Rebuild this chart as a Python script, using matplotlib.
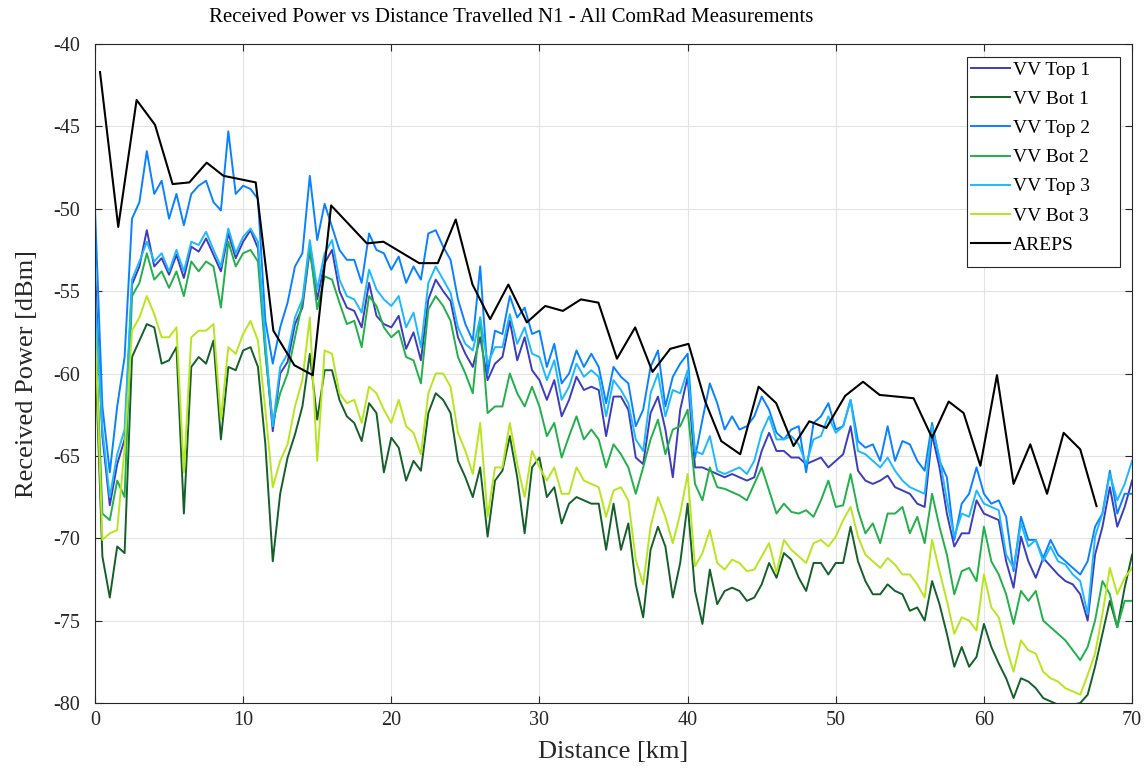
import numpy as np
import matplotlib
matplotlib.use('Agg')
import matplotlib.pyplot as plt
from matplotlib.patches import Rectangle

# distance grid for the measured series [km]
distance_km = np.arange(0, 70.01, 0.5)

# received power [dBm], every 0.5 km
vv_top_1 = [
    -53.8, -63.8, -68.0, -65.5, -64.0, -54.6, -53.5, -51.3, -53.5, -53.0, -54.0, -52.8,
    -54.2, -52.3, -52.6, -51.8, -52.8, -53.8, -51.5, -53.0, -52.0, -51.3, -52.4,
    -58.5, -63.5, -60.0, -59.3, -57.0, -56.0, -52.5, -55.5, -53.3, -52.5, -55.0, -56.0,
    -56.2, -57.2, -54.5, -56.5, -57.0, -57.2, -56.5, -58.5, -57.5, -59.2, -55.5, -54.3,
    -55.0, -55.6, -57.8, -58.8,
    -59.6, -57.8, -60.4, -59.4, -59.0, -56.8, -59.2, -57.8, -59.8, -60.4, -61.6, -60.4,
    -62.6, -61.6, -60.2, -61.0, -60.8, -61.0, -63.8, -61.4, -61.4, -62.2, -65.1, -65.5,
    -62.4, -61.4,
    -63.4, -66.3, -62.2, -60.2, -65.7, -65.7, -65.9, -66.1, -66.3, -66.1, -66.3, -66.5,
    -66.3, -64.7, -63.6, -64.7, -64.7, -65.1, -65.1, -65.5, -65.3, -65.1, -65.7, -65.3,
    -64.9, -63.2,
    -65.9, -66.5, -66.7, -66.5, -66.2, -66.9, -67.1, -67.3, -67.9, -68.1, -63.7, -65.7,
    -68.5, -70.5, -69.7, -69.7, -67.7, -68.5, -68.7, -68.9, -71.4, -73.0, -69.9, -71.4,
    -72.4, -71.2, -71.7, -72.2, -72.6, -72.8, -73.4, -75.0, -71.0, -69.3, -66.9, -69.3,
    -68.1, -66.5,
]
vv_bot_1 = [
    -58.2, -71.1, -73.6, -70.5, -70.9, -59.0, -58.0, -57.0, -57.2, -59.4, -59.2, -58.4,
    -68.5, -59.6, -59.0, -59.4, -58.0, -64.0, -59.6, -59.8, -58.6, -58.4, -59.6,
    -64.3, -71.4, -67.3, -65.1, -63.7, -62.0, -58.8, -62.8, -59.8, -59.8, -61.6, -62.6,
    -63.0, -64.1, -61.8, -62.4, -66.0, -63.9, -64.5, -66.5, -65.3, -65.9, -62.4, -61.2,
    -61.6, -62.4, -65.3, -66.3,
    -67.5, -65.7, -69.9, -66.5, -65.9, -63.8, -66.3, -69.7, -65.7, -65.1, -67.5, -66.9,
    -69.1, -67.9, -67.5, -67.7, -67.9, -67.9, -70.7, -67.9, -70.7, -69.1, -72.8, -74.8,
    -70.7, -69.3,
    -70.5, -73.6, -71.5, -67.9, -73.2, -75.2, -71.9, -74.0, -73.2, -73.0, -73.2, -73.8,
    -73.6, -72.8, -71.5, -72.4, -70.9, -71.3, -72.4, -73.2, -71.5, -71.5, -72.2, -71.5,
    -71.5, -69.3,
    -71.4, -72.6, -73.4, -73.4, -72.8, -73.2, -73.4, -74.4, -74.2, -75.0, -72.6, -74.0,
    -75.8, -77.8, -76.6, -77.8, -77.2, -75.2, -76.6, -77.6, -78.5, -79.7, -78.5, -78.7,
    -79.1, -79.7, -79.9, -80.1, -80.1, -80.1, -80.0, -79.5, -77.8, -75.8, -73.8, -75.4,
    -73.0, -71.0,
]
vv_top_2 = [
    -50.0, -62.0, -66.0, -62.0, -59.0, -50.6, -49.6, -46.5, -49.1, -48.3, -50.6, -49.1,
    -51.0, -49.1, -48.6, -48.3, -49.6, -50.1, -45.3, -49.1, -48.6, -48.8, -49.4,
    -56.8, -59.4, -57.2, -55.7, -53.5, -52.7, -48.0, -51.9, -49.7, -51.1, -52.5, -53.1,
    -53.1, -54.5, -51.5, -52.5, -52.7, -53.7, -52.9, -54.5, -53.5, -54.3, -51.5, -51.3,
    -52.3, -53.1, -55.5, -57.0,
    -58.0, -53.5, -60.0, -57.4, -57.6, -55.3, -56.6, -56.0, -57.6, -57.4, -59.6, -58.2,
    -60.6, -60.0, -58.6, -59.6, -58.8, -59.6, -61.8, -59.6, -60.2, -60.6, -63.2, -62.2,
    -59.6, -58.6,
    -62.0, -60.2, -59.4, -58.8, -65.1, -62.8, -60.6, -61.8, -63.4, -62.6, -63.4, -63.2,
    -62.6, -61.4, -62.2, -63.6, -64.0, -63.4, -63.2, -66.0, -63.0, -62.6, -61.8, -63.4,
    -63.2, -61.6,
    -64.1, -64.5, -64.3, -65.3, -63.2, -65.3, -64.1, -64.3, -65.3, -65.9, -63.0, -65.3,
    -66.3, -70.1, -67.9, -67.3, -65.7, -67.3, -67.9, -67.7, -68.7, -72.0, -68.7, -70.1,
    -70.1, -71.2, -70.1, -71.0, -71.4, -71.8, -72.2, -71.4, -69.3, -68.5, -65.9, -68.5,
    -67.3, -67.3,
]
vv_bot_2 = [
    -56.5, -68.5, -68.9, -66.5, -67.5, -55.3, -54.5, -52.7, -54.3, -53.8, -54.8, -53.8,
    -55.3, -53.2, -53.8, -53.2, -53.5, -56.0, -52.0, -53.5, -52.7, -52.5, -53.2,
    -58.8, -63.0, -61.2, -60.0, -57.8, -55.7, -52.3, -56.1, -54.1, -54.3, -55.7, -57.0,
    -56.8, -58.4, -55.3, -55.9, -57.2, -57.8, -57.4, -59.0, -59.2, -60.6, -56.1, -55.3,
    -55.9, -56.8, -59.0, -60.0,
    -61.2, -56.6, -62.4, -62.0, -62.0, -60.0, -61.2, -62.0, -60.8, -62.0, -63.8, -63.0,
    -65.1, -63.8, -62.6, -64.0, -63.4, -64.0, -65.7, -64.3, -64.9, -65.7, -67.3, -65.7,
    -64.0, -62.8,
    -64.9, -63.4, -63.2, -62.2, -66.7, -67.7, -65.7, -66.9, -67.0, -67.2, -67.4, -67.7,
    -66.7, -65.7, -67.1, -68.5, -67.9, -68.4, -68.5, -68.3, -68.7, -67.7, -66.5, -68.1,
    -68.0, -66.1,
    -68.3, -69.7, -69.1, -70.3, -68.5, -68.5, -68.1, -69.7, -68.7, -70.3, -67.3, -69.3,
    -71.0, -73.4, -72.0, -71.8, -72.6, -69.3, -71.4, -72.2, -73.4, -75.2, -73.2, -73.8,
    -73.2, -75.0, -75.4, -75.8, -76.2, -76.8, -77.4, -76.6, -75.0, -72.6, -73.4, -75.4,
    -73.8, -73.8,
]
vv_top_3 = [
    -55.1, -63.4, -67.5, -64.9, -63.4, -54.3, -53.2, -52.0, -53.2, -52.7, -53.8, -52.5,
    -53.8, -52.0, -52.2, -51.4, -52.5, -53.5, -51.2, -52.7, -51.7, -51.2, -52.0,
    -58.0, -63.2, -59.6, -58.8, -56.6, -55.5, -51.9, -54.9, -52.7, -51.9, -54.3, -55.3,
    -55.5, -56.3, -53.7, -54.9, -55.5, -55.9, -55.3, -57.2, -56.3, -58.4, -54.5, -53.5,
    -54.3, -55.1, -57.2, -58.2,
    -58.6, -56.6, -59.4, -58.4, -58.4, -56.4, -58.2, -57.2, -58.8, -59.0, -60.4, -59.2,
    -61.6, -60.8, -59.4, -60.2, -59.8, -60.2, -62.6, -60.4, -61.0, -61.8, -64.0, -64.7,
    -61.2, -60.0,
    -62.6, -61.0, -61.2, -59.8, -64.7, -64.9, -63.8, -65.9, -66.1, -65.9, -65.7, -66.1,
    -65.3, -63.6, -62.6, -64.0, -64.0, -63.8, -64.3, -65.5, -64.0, -63.8, -62.6, -63.6,
    -63.2, -61.6,
    -64.7, -64.9, -65.3, -65.7, -65.1, -65.9, -66.5, -66.9, -67.1, -67.3, -63.2, -65.1,
    -67.7, -69.9, -68.5, -68.7, -67.1, -67.9, -68.1, -68.3, -71.0, -71.8, -69.1, -70.5,
    -70.1, -71.4, -70.5, -71.4, -71.6, -72.2, -72.6, -74.6, -69.9, -68.5, -66.1, -67.7,
    -66.7, -65.3,
]
vv_bot_3 = [
    -57.0, -70.1, -69.7, -69.5, -64.5, -57.4, -56.6, -55.3, -56.4, -57.8, -57.8, -57.2,
    -66.0, -57.8, -57.4, -57.4, -57.0, -62.8, -58.4, -58.8, -57.6, -56.8, -58.0,
    -62.2, -66.9, -65.3, -64.3, -62.0, -60.4, -56.6, -65.3, -58.6, -58.8, -61.2, -61.8,
    -61.6, -63.0, -60.8, -61.2, -62.2, -63.0, -61.6, -63.2, -63.6, -64.9, -61.2, -60.0,
    -60.0, -60.8, -63.6, -64.7,
    -66.1, -63.0, -68.7, -65.7, -65.7, -63.0, -65.5, -67.5, -64.7, -65.7, -66.5, -65.7,
    -67.3, -67.3, -65.7, -66.5, -66.7, -66.9, -68.7, -67.1, -66.9, -67.7, -71.3, -72.8,
    -69.3, -67.5,
    -68.7, -70.3, -68.5, -66.1, -71.7, -70.9, -69.5, -71.5, -71.9, -71.3, -71.5, -72.0,
    -71.9, -71.1, -70.3, -72.1, -70.1, -70.7, -71.1, -71.5, -70.3, -70.1, -70.5, -69.9,
    -68.9, -68.1,
    -69.9, -71.0, -71.4, -71.8, -71.2, -71.6, -72.2, -72.2, -72.8, -73.6, -70.1, -72.0,
    -73.8, -75.8, -74.8, -75.0, -75.6, -72.2, -74.2, -74.8, -76.6, -78.1, -76.2, -76.8,
    -77.0, -78.1, -78.5, -78.7, -79.1, -79.3, -79.5, -78.3, -77.0, -74.6, -71.8, -73.4,
    -72.4, -71.8,
]

# AREPS prediction
areps_km = [
    0.34, 1.57, 2.81, 4.05, 5.24, 6.37, 7.54, 8.67, 10.85, 12.04, 13.46, 14.7, 15.94,
    18.35, 19.47, 21.88, 23.14, 24.35, 25.48, 26.67, 27.9, 29.15, 30.39, 31.58, 32.8,
    33.98, 35.23, 36.46, 37.63, 38.83, 40.06, 41.19, 42.27, 43.55, 44.79, 45.98, 47.15,
    48.21, 49.36, 50.64, 51.84, 52.96, 55.25, 56.5, 57.62, 58.63, 59.76, 60.88, 62.0,
    63.13, 64.26, 65.38, 66.5, 67.6,
]
areps_dbm = [
    -41.7, -51.1, -43.4, -44.9, -48.5, -48.4, -47.2, -48.0, -48.4, -57.4, -59.5, -60.1,
    -49.8, -52.1, -52.0, -53.3, -53.3, -50.65, -54.6, -56.7, -54.6, -56.9, -55.9, -56.2,
    -55.5, -55.7, -59.1, -57.2, -59.9, -58.5, -58.2, -61.7, -64.1, -64.9, -60.8, -61.8,
    -64.4, -62.9, -63.3, -61.35, -60.5, -61.3, -61.5, -63.9, -61.7, -62.4, -65.6, -60.1,
    -66.7, -64.3, -67.3, -63.6, -64.6, -68.05,
]

series_names = ['VV Top 1', 'VV Bot 1', 'VV Top 2', 'VV Bot 2', 'VV Top 3', 'VV Bot 3']
series_values = [vv_top_1, vv_bot_1, vv_top_2, vv_bot_2, vv_top_3, vv_bot_3]
series_colors = ['#3c3cbe', '#15602a', '#0a82ff', '#22b04a', '#1eb8ff', '#b8e61e']

plt.rcParams['font.family'] = ['Liberation Serif', 'DejaVu Serif']
plt.rcParams['axes.unicode_minus'] = False

fig = plt.figure(figsize=(11.47, 7.71), dpi=100)
ax = fig.add_axes([0.0828, 0.0882, 0.9042, 0.8547])

for name, values, color in zip(series_names, series_values, series_colors):
    ax.plot(distance_km, values, color=color, linewidth=1.4, label=name)
ax.plot(areps_km, areps_dbm, color='black', linewidth=1.5, label='AREPS')

ax.set_xlim(0, 70)
ax.set_ylim(-80, -40)
ax.set_xticks(range(0, 71, 10))
ax.set_yticks(range(-80, -39, 5))
ax.grid(True, color='#e3e3e3', linewidth=0.8)
ax.set_axisbelow(True)
ax.tick_params(direction='in', top=True, right=True, labelsize=14.5, length=5,
               color='#262626', labelcolor='#262626')
ax.tick_params(axis='y', pad=11)
ax.tick_params(axis='x', pad=6)
for spine in ax.spines.values():
    spine.set_color('#262626')
    spine.set_linewidth(0.8)

ax.set_xlabel('Distance [km]', fontsize=19, color='#262626', va='center')
ax.xaxis.set_label_coords(0.5, -0.0744)
ax.set_ylabel('Received Power [dBm]', fontsize=19, color='#262626', va='center')
ax.yaxis.set_label_coords(-0.066, 0.5)
fig.text(511 / 1147, 1 - 17 / 771,
         'Received Power vs Distance Travelled N1 - All ComRad Measurements',
         fontsize=15, ha='center', va='center')

# legend: MATLAB style box, wider than its entries
leg = ax.legend(loc='upper left', bbox_to_anchor=(0.8447, 0.9735), fontsize=14,
                frameon=False, handlelength=2.0, handletextpad=0.15,
                labelspacing=0.59, borderpad=0.0, borderaxespad=0)
ax.add_patch(Rectangle((0.8409, 0.6616), 0.1475, 0.3187, transform=ax.transAxes,
                       facecolor='white', edgecolor='#262626', linewidth=0.8,
                       zorder=4.9))
leg.set_zorder(5)

fig.savefig('out.png', dpi=100)
